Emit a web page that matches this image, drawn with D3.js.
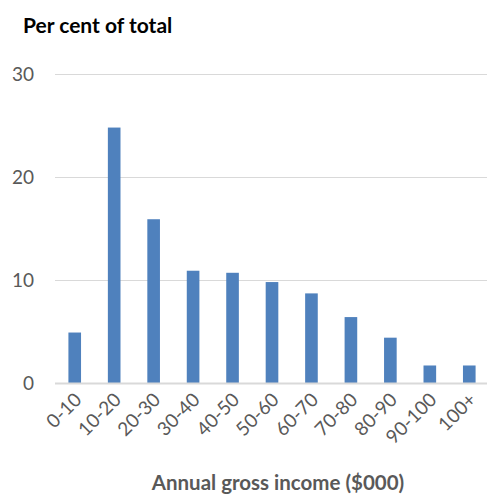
<!DOCTYPE html>
<html>
<head>
<meta charset="utf-8">
<script src="https://cdn.jsdelivr.net/npm/d3@7"></script>
<style>
  body { margin: 0; background: #fff; }
  svg { display: block; font-family: Lato, "Open Sans", sans-serif; }
</style>
</head>
<body>
<svg id="chart"></svg>
<script>
// Datos.
const categorias = ['0-10', '10-20', '20-30', '30-40', '40-50', '50-60', '60-70', '70-80', '80-90', '90-100', '100+'];
const valores = [4.9, 24.8, 15.9, 10.9, 10.7, 9.8, 8.7, 6.4, 4.4, 1.7, 1.7];
const ticks_y = [0, 10, 20, 30];

const WIDTH = 489;
const HEIGHT = 496;
const MARGIN = { top: 74, bottom: 113, left: 55, right: 0 };

const svg = d3.select('svg#chart')
                .attr('width', WIDTH)
                .attr('height', HEIGHT);

const escalaX = d3.scaleBand()
                    .domain(categorias)
                    .range([MARGIN.left, WIDTH - MARGIN.right])
                    .paddingInner(0.68)
                    .paddingOuter(0.34);

const escalaY = d3.scaleLinear()
                    .domain([0, 30])
                    .range([HEIGHT - MARGIN.bottom, MARGIN.top]);

// Lineas de grilla
svg.append('g')
    .selectAll('line.grid')
    .data(ticks_y.filter(d => d > 0))
    .join('line')
        .attr('class', 'grid')
        .attr('x1', MARGIN.left)
        .attr('x2', WIDTH - 2)
        .attr('y1', d => escalaY(d) + 0.5)
        .attr('y2', d => escalaY(d) + 0.5)
        .attr('stroke', '#d9d9d9')
        .attr('stroke-width', 1);

// Barras
svg.append('g')
    .selectAll('rect.barra')
    .data(valores)
    .join('rect')
        .attr('class', 'barra')
        .attr('x', (d, i) => escalaX(categorias[i]))
        .attr('y', d => escalaY(d))
        .attr('width', escalaX.bandwidth())
        .attr('height', d => escalaY(0) - escalaY(d))
        .attr('fill', '#4f81bd');

// Eje base
svg.append('line')
    .attr('x1', MARGIN.left)
    .attr('x2', WIDTH - 2)
    .attr('y1', escalaY(0) + 0.5)
    .attr('y2', escalaY(0) + 0.5)
    .attr('stroke', '#d9d9d9')
    .attr('stroke-width', 2);

// Etiquetas eje Y
svg.append('g')
    .selectAll('text.tick-y')
    .data(ticks_y)
    .join('text')
        .attr('class', 'tick-y')
        .attr('x', 34)
        .attr('y', d => escalaY(d))
        .attr('dy', '0.35em')
        .attr('text-anchor', 'end')
        .attr('fill', '#595959')
        .style('font-size', '19px')
        .text(d => d);

// Etiquetas eje X (rotadas)
svg.append('g')
    .selectAll('text.tick-x')
    .data(categorias)
    .join('text')
        .attr('class', 'tick-x')
        .attr('transform', d => `translate(${escalaX(d) + escalaX.bandwidth() / 2 + 8}, ${escalaY(0) + 18}) rotate(-45)`)
        .attr('text-anchor', 'end')
        .attr('fill', '#595959')
        .style('font-size', '19px')
        .text(d => d);

// Titulos
svg.append('text')
    .attr('x', 23)
    .attr('y', 33)
    .attr('fill', '#000')
    .style('font-size', '21px')
    .style('font-weight', 'bold')
    .text('Per cent of total');

svg.append('text')
    .attr('x', 278)
    .attr('y', 490)
    .attr('text-anchor', 'middle')
    .attr('fill', '#595959')
    .style('font-size', '20.5px')
    .style('font-weight', 'bold')
    .text('Annual gross income ($000)');
</script>
</body>
</html>
